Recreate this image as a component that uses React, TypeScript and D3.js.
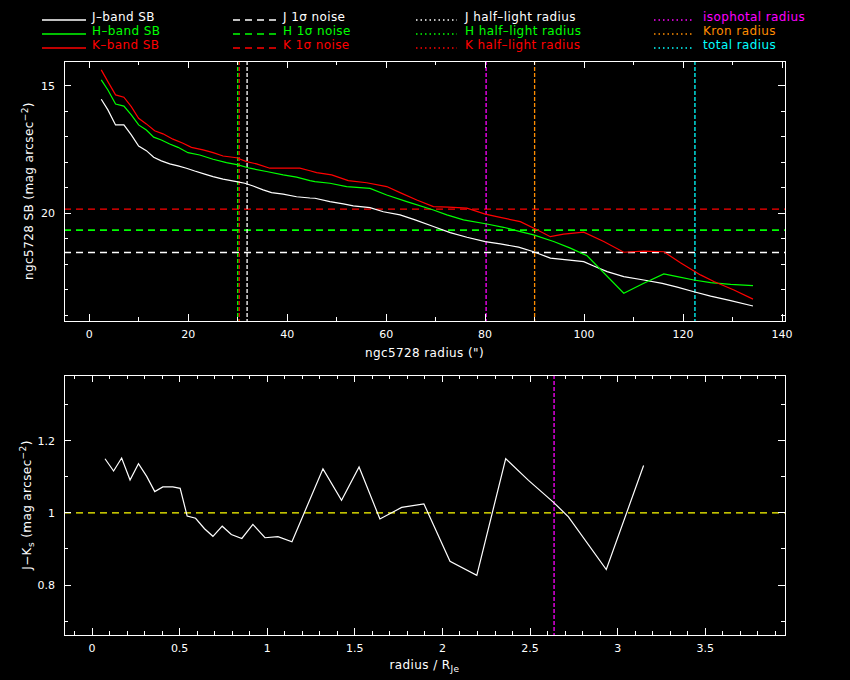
import React, { useEffect } from 'react';
import * as d3 from 'd3';

// ---- top panel: surface brightness profiles (radius in arcsec, SB in mag/arcsec^2)
const jRadius = [2.43, 3.77, 5.32, 7.0, 8.5, 9.98, 11.54, 13.02, 14.57, 16.26, 17.94, 19.64, 21.32, 23.34, 25.02, 27.04, 29.76, 31.44, 33.12, 35.14, 36.84, 39.19, 41.9, 44.6, 45.61, 48.64, 51.34, 53.36, 56.74, 59.43, 62.81, 65.85, 69.55, 72.94, 76.32, 80.02, 83.06, 86.76, 89.8, 93.18, 96.56, 99.92, 101.94, 104.66, 108.02, 112.06, 115.79, 118.83, 122.19, 125.57, 129.62, 134.13];
const jSB = [15.52, 15.94, 16.53, 16.53, 16.92, 17.36, 17.54, 17.8, 17.94, 18.06, 18.14, 18.23, 18.34, 18.46, 18.56, 18.66, 18.76, 18.82, 18.93, 19.08, 19.19, 19.25, 19.35, 19.4, 19.41, 19.54, 19.63, 19.71, 19.78, 19.94, 20.06, 20.26, 20.52, 20.76, 20.94, 21.11, 21.2, 21.33, 21.51, 21.76, 21.83, 21.9, 22.07, 22.29, 22.49, 22.62, 22.75, 22.9, 23.08, 23.25, 23.43, 23.64];

const hRadius = [2.43, 3.77, 5.32, 7.0, 8.5, 9.98, 11.54, 13.02, 14.57, 16.26, 17.94, 19.96, 22.33, 25.02, 27.73, 30.08, 32.45, 35.83, 39.19, 41.9, 44.6, 45.61, 48.64, 52.02, 56.74, 60.12, 64.17, 69.55, 72.27, 75.63, 80.36, 83.72, 87.11, 89.8, 93.85, 97.23, 100.61, 108.02, 112.06, 116.11, 118.83, 122.19, 125.57, 129.62, 134.13];
const hSB = [14.76, 15.16, 15.71, 15.79, 16.14, 16.53, 16.73, 17.01, 17.12, 17.28, 17.41, 17.62, 17.71, 17.88, 18.01, 18.1, 18.23, 18.36, 18.49, 18.58, 18.72, 18.76, 18.82, 18.95, 19.02, 19.28, 19.54, 19.87, 20.06, 20.26, 20.42, 20.55, 20.72, 20.85, 21.11, 21.37, 21.67, 23.14, 22.75, 22.38, 22.49, 22.62, 22.72, 22.79, 22.84];

const kRadius = [2.43, 3.77, 5.32, 7.0, 8.5, 9.98, 11.54, 13.22, 14.9, 16.92, 18.95, 20.65, 23.0, 25.02, 27.04, 29.76, 31.78, 33.81, 36.5, 42.57, 44.6, 45.95, 48.99, 52.35, 56.07, 60.12, 62.81, 66.19, 69.55, 72.59, 76.32, 80.02, 83.06, 87.11, 90.49, 93.18, 95.87, 99.92, 103.97, 108.02, 112.06, 116.11, 119.47, 123.52, 126.23, 130.28, 134.13];
const kSB = [14.37, 14.83, 15.35, 15.44, 15.81, 16.27, 16.49, 16.76, 16.88, 17.09, 17.25, 17.41, 17.51, 17.62, 17.75, 17.82, 17.97, 18.06, 18.23, 18.23, 18.33, 18.4, 18.49, 18.72, 18.8, 18.95, 19.19, 19.48, 19.74, 19.76, 19.8, 20.03, 20.16, 20.33, 20.65, 20.92, 20.82, 20.74, 21.11, 21.53, 21.49, 21.51, 21.94, 22.42, 22.68, 23.01, 23.37];

// 1 sigma noise levels
const noiseJ = 21.54;
const noiseH = 20.66;
const noiseK = 19.84;

// characteristic radii (arcsec)
const halfLightJ = 31.9;
const halfLightH = 30.0;
const halfLightK = 30.3;
const isophotalRadius = 80.2;
const kronRadius = 90.0;
const totalRadius = 122.4;

// ---- bottom panel: J-Ks colour against radius / R_Je
const colourRadius = [0.074, 0.123, 0.169, 0.217, 0.265, 0.312, 0.358, 0.404, 0.461, 0.503, 0.543, 0.591, 0.642, 0.69, 0.743, 0.795, 0.855, 0.918, 0.987, 1.061, 1.141, 1.318, 1.424, 1.524, 1.643, 1.767, 1.894, 2.043, 2.196, 2.361, 2.491, 2.634, 2.719, 2.935, 3.148];
const colourJK = [1.15, 1.116, 1.152, 1.091, 1.136, 1.101, 1.059, 1.072, 1.072, 1.068, 0.991, 0.985, 0.956, 0.935, 0.963, 0.94, 0.929, 0.968, 0.931, 0.934, 0.92, 1.122, 1.035, 1.127, 0.983, 1.015, 1.025, 0.866, 0.827, 1.15, 1.09, 1.029, 0.989, 0.843, 1.131];
const colourReference = 1.0;
const isophotalRadiusNorm = 2.637;

// tick labels
const topXTicks = [0, 20, 40, 60, 80, 100, 120, 140];
const topYTicks = [15, 20];
const botXTicks = [0, 0.5, 1, 1.5, 2, 2.5, 3, 3.5];
const botYTicks = [0.8, 1, 1.2];

const WHITE = '#ffffff';
const GREEN = '#00ff00';
const RED = '#ff0000';
const MAGENTA = '#ff00ff';
const ORANGE = '#ff8c00';
const CYAN = '#00ffff';
const YELLOW = '#ffff00';

const FONT = '"DejaVu Sans", sans-serif';
const DASH = '7,5';
const DOT = '4,2';

const left = 64;
const right = 785;

const xTop = d3.scaleLinear().domain([-5.1, 140.6]).range([left, right]);
const yTop = d3.scaleLinear().domain([14.02, 24.23]).range([61, 321]);
const xBot = d3.scaleLinear().domain([-0.16, 3.955]).range([left, right]);
const yBot = d3.scaleLinear().domain([0.6615, 1.382]).range([635, 375]);

type Scale = d3.ScaleLinear<number, number>;

const Frame: React.FC<{ x: Scale; y: Scale; xMinor: number[]; xMajor: number[]; yMinor: number[]; yMajor: number[] }> = ({ x, y, xMinor, xMajor, yMinor, yMajor }) => {
  const [x0, x1] = x.range();
  const [yb, yt] = [Math.max(...y.range()), Math.min(...y.range())];
  const ticks: JSX.Element[] = [];
  xMinor.forEach((v, i) => {
    const len = xMajor.some(m => Math.abs(m - v) < 1e-9) ? 7 : 4;
    const px = x(v);
    ticks.push(<line key={`xb${i}`} x1={px} x2={px} y1={yb} y2={yb - len} />);
    ticks.push(<line key={`xt${i}`} x1={px} x2={px} y1={yt} y2={yt + len} />);
  });
  yMinor.forEach((v, i) => {
    const len = yMajor.some(m => Math.abs(m - v) < 1e-9) ? 7 : 4;
    const py = y(v);
    ticks.push(<line key={`yl${i}`} x1={x0} x2={x0 + len} y1={py} y2={py} />);
    ticks.push(<line key={`yr${i}`} x1={x1} x2={x1 - len} y1={py} y2={py} />);
  });
  return (
    <g stroke={WHITE} strokeWidth={1} shapeRendering="crispEdges">
      <rect x={x0} y={yt} width={x1 - x0} height={yb - yt} fill="none" />
      {ticks}
    </g>
  );
};

const legendRows = [
  { col: 0, row: 0, kind: 'solid', color: WHITE, label: 'J\u2013band SB' },
  { col: 0, row: 1, kind: 'solid', color: GREEN, label: 'H\u2013band SB' },
  { col: 0, row: 2, kind: 'solid', color: RED, label: 'K\u2013band SB' },
  { col: 1, row: 0, kind: 'dash', color: WHITE, label: 'J 1\u03c3 noise' },
  { col: 1, row: 1, kind: 'dash', color: GREEN, label: 'H 1\u03c3 noise' },
  { col: 1, row: 2, kind: 'dash', color: RED, label: 'K 1\u03c3 noise' },
  { col: 2, row: 0, kind: 'dot', color: WHITE, label: 'J half\u2013light radius' },
  { col: 2, row: 1, kind: 'dot', color: GREEN, label: 'H half\u2013light radius' },
  { col: 2, row: 2, kind: 'dot', color: RED, label: 'K half\u2013light radius' },
  { col: 3, row: 0, kind: 'dot', color: MAGENTA, label: 'isophotal radius' },
  { col: 3, row: 1, kind: 'dot', color: ORANGE, label: 'Kron radius' },
  { col: 3, row: 2, kind: 'dot', color: CYAN, label: 'total radius' },
];
const legendCols = [
  { x0: 42, x1: 86, tx: 92 },
  { x0: 233, x1: 276, tx: 283 },
  { x0: 416, x1: 457, tx: 465 },
  { x0: 654, x1: 693, tx: 703 },
];

export default function App() {
  useEffect(() => {
    document.body.style.margin = '0';
    document.body.style.background = '#000';
  }, []);

  const line = d3.line<[number, number]>();
  const topPath = (rs: number[], vs: number[]) =>
    line(rs.map((r, i) => [xTop(r), yTop(vs[i])] as [number, number])) ?? '';
  const botPath = line(colourRadius.map((r, i) => [xBot(r), yBot(colourJK[i])] as [number, number])) ?? '';

  const [tTop, tBot] = [61, 321];
  const [bTop, bBot] = [375, 635];

  const vLine = (xv: number, color: string, y0: number, y1: number, key: string) => (
    <line key={key} x1={xv} x2={xv} y1={y0} y2={y1} stroke={color} strokeWidth={1.3} strokeDasharray={DOT} />
  );
  const hLine = (yv: number, color: string, key: string, width = 1.3) => (
    <line key={key} x1={left} x2={right} y1={yv} y2={yv} stroke={color} strokeWidth={width} strokeDasharray={DASH} />
  );

  const textStyle = { fontFamily: FONT, fontSize: 12, letterSpacing: 0.4 };

  return (
    <svg width={850} height={680} style={{ display: 'block', background: '#000' }}>
      <rect width={850} height={680} fill="#000" />

      {/* legend */}
      {legendRows.map((d, i) => {
        const c = legendCols[d.col];
        const ly = 20 + d.row * 14;
        const dash = d.kind === 'dash' ? DASH : d.kind === 'dot' ? '1.5,3' : undefined;
        return (
          <g key={i}>
            <line x1={c.x0} x2={c.x1} y1={ly} y2={ly} stroke={d.color} strokeWidth={1.3} strokeDasharray={dash} />
            <text x={c.tx} y={ly + 0.5} fill={d.color} style={textStyle}>{d.label}</text>
          </g>
        );
      })}

      {/* top panel */}
      <g>
        {hLine(yTop(noiseK), RED, 'nk')}
        {hLine(yTop(noiseH), GREEN, 'nh', 1.8)}
        {hLine(yTop(noiseJ), WHITE, 'nj')}
        {vLine(xTop(halfLightJ), WHITE, tTop, tBot, 'hj')}
        {vLine(xTop(halfLightK), RED, tTop, tBot, 'hk')}
        {vLine(xTop(halfLightH), GREEN, tTop, tBot, 'hh')}
        {vLine(xTop(isophotalRadius), MAGENTA, tTop, tBot, 'iso')}
        {vLine(xTop(kronRadius), ORANGE, tTop, tBot, 'kron')}
        {vLine(xTop(totalRadius), CYAN, tTop, tBot, 'tot')}
        <path d={topPath(jRadius, jSB)} fill="none" stroke={WHITE} strokeWidth={1.2} />
        <path d={topPath(hRadius, hSB)} fill="none" stroke={GREEN} strokeWidth={1.2} />
        <path d={topPath(kRadius, kSB)} fill="none" stroke={RED} strokeWidth={1.2} />
        <Frame x={xTop} y={yTop} xMajor={topXTicks} xMinor={d3.range(0, 141, 10)} yMajor={topYTicks} yMinor={d3.range(15, 25, 1)} />
        {topXTicks.map(t => (
          <text key={t} x={xTop(t)} y={338} fill={WHITE} textAnchor="middle" style={{ fontFamily: FONT, fontSize: 11 }}>{t}</text>
        ))}
        {topYTicks.map(t => (
          <text key={t} x={55} y={yTop(t) + 4} fill={WHITE} textAnchor="end" style={{ fontFamily: FONT, fontSize: 11 }}>{t}</text>
        ))}
        <text x={(left + right) / 2} y={357} fill={WHITE} textAnchor="middle" style={textStyle}>ngc5728 radius (")</text>
        <text transform={`translate(33, ${(tTop + tBot) / 2}) rotate(-90)`} fill={WHITE} textAnchor="middle" style={textStyle}>
          ngc5728 SB (mag arcsec<tspan dy={-5} fontSize={9}>{'\u22122'}</tspan><tspan dy={5}>)</tspan>
        </text>
      </g>

      {/* bottom panel */}
      <g>
        {hLine(yBot(colourReference), YELLOW, 'ref')}
        {vLine(xBot(isophotalRadiusNorm), MAGENTA, bTop, bBot, 'isoN')}
        <path d={botPath} fill="none" stroke={WHITE} strokeWidth={1.2} />
        <Frame
          x={xBot}
          y={yBot}
          xMajor={botXTicks}
          xMinor={d3.range(-1, 40).map(v => v / 10)}
          yMajor={botYTicks}
          yMinor={d3.range(7, 14).map(v => v / 10)}
        />
        {botXTicks.map(t => (
          <text key={t} x={xBot(t)} y={652} fill={WHITE} textAnchor="middle" style={{ fontFamily: FONT, fontSize: 11 }}>{t}</text>
        ))}
        {botYTicks.map(t => (
          <text key={t} x={55} y={yBot(t) + 4} fill={WHITE} textAnchor="end" style={{ fontFamily: FONT, fontSize: 11 }}>{t}</text>
        ))}
        <text x={(left + right) / 2} y={669} fill={WHITE} textAnchor="middle" style={textStyle}>
          radius / R<tspan dy={3} fontSize={9}>Je</tspan>
        </text>
        <text transform={`translate(31, ${(bTop + bBot) / 2}) rotate(-90)`} fill={WHITE} textAnchor="middle" style={textStyle}>
          J{'\u2212'}K<tspan dy={3} fontSize={9}>s</tspan><tspan dy={-3}> (mag arcsec</tspan><tspan dy={-5} fontSize={9}>{'\u22122'}</tspan><tspan dy={5}>)</tspan>
        </text>
      </g>
    </svg>
  );
}
